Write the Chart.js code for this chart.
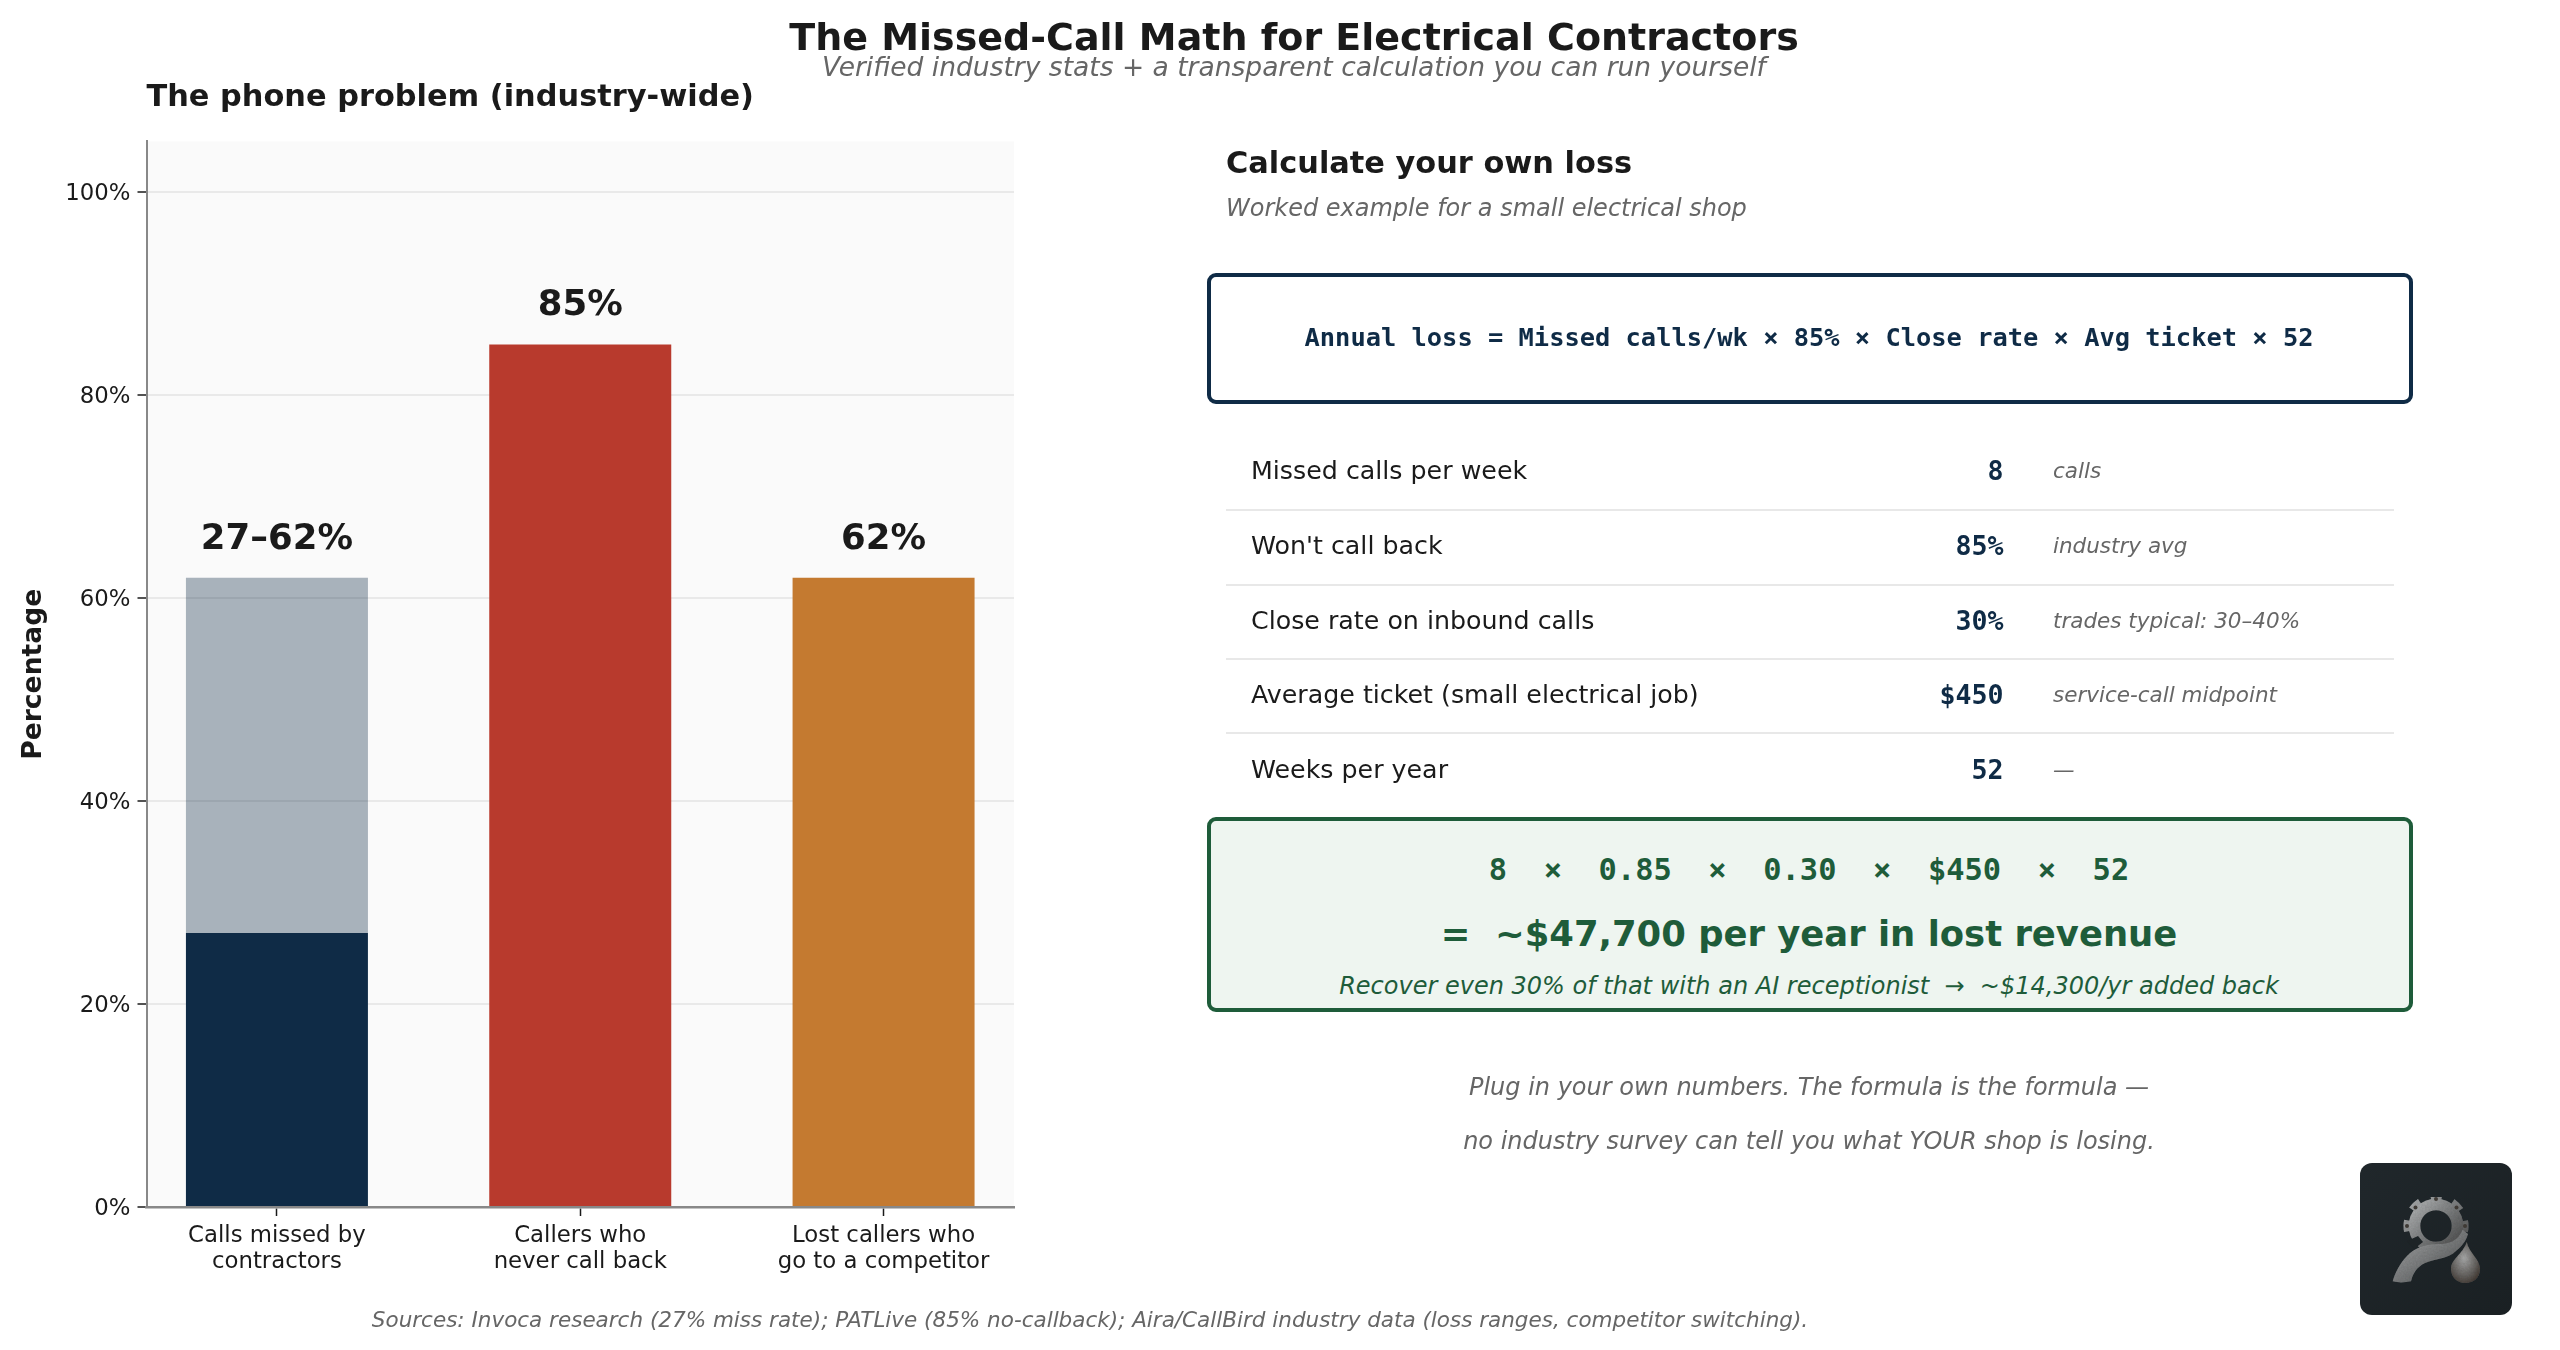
<!DOCTYPE html>
<html>
<head>
<meta charset="utf-8">
<title>The Missed-Call Math for Electrical Contractors</title>
<script src="https://cdn.jsdelivr.net/npm/chart.js@4"></script>
<style>
html, body { margin: 0; padding: 0; background: #fff; }
#page { position: relative; width: 2560px; height: 1350px; overflow: hidden; font-family: "DejaVu Sans", sans-serif; color: #1a1a1a; }
#phoneChart { position: absolute; left: 0; top: 0; }
.t { position: absolute; white-space: pre; line-height: 1; transform: translateY(-50%); }
.c { transform: translate(-50%, -50%); }
.r { transform: translate(-100%, -50%); }
.i { font-style: italic; color: #666; }
.b { font-weight: bold; }
.m { font-family: "DejaVu Sans Mono", monospace; font-weight: bold; color: #0f2b46; }
.g { color: #1e5c3a; }
.box { position: absolute; box-sizing: border-box; border-radius: 9px; }
.rule { position: absolute; left: 1226px; width: 1168px; height: 2px; background: #e8e8e8; }
#logo { position: absolute; left: 2360px; top: 1163px; }
</style>
</head>
<body>
<div id="page">
	<canvas id="phoneChart" width="2560" height="1350"></canvas>

	<div class="t c b" style="left:1294px;top:37px;font-size:38px">The Missed-Call Math for Electrical Contractors</div>
	<div class="t c i" style="left:1294px;top:67px;font-size:26.5px">Verified industry stats + a transparent calculation you can run yourself</div>

	<div class="t b" style="left:1226px;top:163px;font-size:30.4px">Calculate your own loss</div>
	<div class="t i" style="left:1226px;top:208px;font-size:24px">Worked example for a small electrical shop</div>

	<div class="box" style="left:1207px;top:272.5px;width:1206px;height:131px;border:4px solid #0f2b46"></div>
	<div class="t c m" style="left:1809px;top:338px;font-size:25.4px">Annual loss = Missed calls/wk × 85% × Close rate × Avg ticket × 52</div>

	<div id="rows"></div>

	<div class="box" style="left:1207px;top:816.5px;width:1206px;height:195px;border:4px solid #1e5c3a;background:#eef5f0"></div>
	<div class="t c m g" style="left:1809px;top:870px;font-size:30.4px;color:#1e5c3a">8  ×  0.85  ×  0.30  ×  $450  ×  52</div>
	<div class="t c b g" style="left:1809px;top:934px;font-size:35.4px">=  ~$47,700 per year in lost revenue</div>
	<div class="t c i g" style="left:1809px;top:986px;font-size:24px;color:#1e5c3a">Recover even 30% of that with an AI receptionist  →  ~$14,300/yr added back</div>

	<div class="t c i" style="left:1809px;top:1087px;font-size:24px">Plug in your own numbers. The formula is the formula —</div>
	<div class="t c i" style="left:1809px;top:1140.5px;font-size:24px">no industry survey can tell you what YOUR shop is losing.</div>

	<div class="t c i" style="left:1090px;top:1319.5px;font-size:21.5px">Sources: Invoca research (27% miss rate); PATLive (85% no-callback); Aira/CallBird industry data (loss ranges, competitor switching).</div>

	<!-- gear, hook and drop badge -->
	<svg id="logo" width="152" height="152" viewBox="0 0 152 152">
		<defs>
			<linearGradient id="plate" x1="0" y1="0" x2="1" y2="1">
				<stop offset="0" stop-color="#20272b"/>
				<stop offset="1" stop-color="#1a2023"/>
			</linearGradient>
			<linearGradient id="steel" x1="0" y1="0" x2="1" y2="1">
				<stop offset="0" stop-color="#a5a7a8"/>
				<stop offset="0.55" stop-color="#6f7172"/>
				<stop offset="1" stop-color="#484848"/>
			</linearGradient>
			<radialGradient id="dropFill" cx="0.45" cy="0.4" r="0.7">
				<stop offset="0" stop-color="#a0a1a1"/>
				<stop offset="0.65" stop-color="#5c5956"/>
				<stop offset="1" stop-color="#382e27"/>
			</radialGradient>
			<clipPath id="upperHalf"><rect width="152" height="72"/></clipPath>
			<filter id="grain" x="0" y="0" width="100%" height="100%">
				<feTurbulence type="fractalNoise" baseFrequency="0.55" numOctaves="2" seed="4"/>
				<feColorMatrix type="saturate" values="0"/>
				<feComponentTransfer><feFuncA type="linear" slope="0.35"/></feComponentTransfer>
				<feComposite in2="SourceAlpha" operator="in"/>
				<feBlend in2="SourceGraphic" mode="overlay"/>
			</filter>
		</defs>
		<rect width="152" height="152" rx="12" fill="url(#plate)"/>
		<g filter="url(#grain)">
			<g clip-path="url(#upperHalf)">
				<circle cx="76" cy="63" r="29" fill="none" stroke="url(#steel)" stroke-width="7" stroke-dasharray="11 11.78" stroke-dashoffset="5.5"/>
			</g>
			<circle cx="76" cy="63" r="21.5" fill="none" stroke="url(#steel)" stroke-width="11.5"/>
			<path d="M102.7 66.7 C98 78 89 81 78 81 C66 81.5 55 84 47 93 C40 100 35 110 32.7 118.3 C39 120 45 119.5 51 118.3 C53 110 57 104 65 100 C74 96 88 96 96 88 C102 83 106 78 108 71 Z" fill="url(#steel)"/>
			<path d="M106.7 79 C109 90 120 96 120 106 C120 115 113 120 105.5 120 C97 120 91 114 91 106 C91 96 103 91 106.7 79 Z" fill="url(#dropFill)"/>
		</g>
		<path d="M47 78 L58 73 L63 79 L54 86 Z" fill="#1d2326"/>
		<circle cx="76" cy="36" r="2" fill="#3f3a35"/>
		<circle cx="55.5" cy="44.5" r="2" fill="#3f3a35"/>
		<circle cx="96.5" cy="44.5" r="2" fill="#3f3a35"/>
		<circle cx="47" cy="63" r="2" fill="#3f3a35"/>
		<circle cx="105" cy="63" r="2" fill="#3f3a35"/>
	</svg>
</div>

<script>
// bar chart values, in percent
var categories = [["Calls missed by", "contractors"], ["Callers who", "never call back"], ["Lost callers who", "go to a competitor"]]
var solidValues = [27, 85, 62]
var missRange = [[27, 62], null, null]
var valueLabels = ["27–62%", "85%", "62%"]
var labelTops = [62, 85, 62]
var barColors = ["#0f2b46", "#b83a2d", "#c47a30"]

// worked example rows
var rowLabels = ["Missed calls per week", "Won't call back", "Close rate on inbound calls", "Average ticket (small electrical job)", "Weeks per year"]
var rowValues = ["8", "85%", "30%", "$450", "52"]
var rowNotes = ["calls", "industry avg", "trades typical: 30–40%", "service-call midpoint", "—"]
var rowCenters = [471, 546, 621, 694.5, 769.5]
var ruleTops = [509, 584, 658, 732]

window.onload = function()
{
	var rows = document.getElementById("rows")
	var html = ""
	for(var i = 0; i < rowLabels.length; i++)
	{
		html += '<div class="t" style="left:1251px;top:' + rowCenters[i] + 'px;font-size:25.3px">' + rowLabels[i] + '</div>'
		html += '<div class="t r m" style="left:2003.5px;top:' + rowCenters[i] + 'px;font-size:26.6px">' + rowValues[i] + '</div>'
		html += '<div class="t i" style="left:2053px;top:' + rowCenters[i] + 'px;font-size:21.5px">' + rowNotes[i] + '</div>'
	}
	for(var j = 0; j < ruleTops.length; j++)
		html += '<div class="rule" style="top:' + ruleTops[j] + 'px"></div>'
	rows.innerHTML = html

	var plotBackground = {
		id: "plotBackground",
		beforeDraw: function(chart)
		{
			var a = chart.chartArea
			chart.ctx.save()
			chart.ctx.fillStyle = "#fafafa"
			chart.ctx.fillRect(a.left, a.top, a.right - a.left, a.bottom - a.top)
			chart.ctx.restore()
		}
	}

	var barLabels = {
		id: "barLabels",
		afterDatasetsDraw: function(chart)
		{
			var ctx = chart.ctx
			ctx.save()
			ctx.font = "bold 35.5px 'DejaVu Sans'"
			ctx.fillStyle = "#1a1a1a"
			ctx.textAlign = "center"
			ctx.textBaseline = "alphabetic"
			for(var i = 0; i < valueLabels.length; i++)
				ctx.fillText(valueLabels[i], chart.scales.x.getPixelForValue(i), chart.scales.y.getPixelForValue(labelTops[i]) - 29)
			ctx.restore()
		}
	}

	var ctx = document.getElementById("phoneChart")
	var myChart = new Chart(ctx, {
		type: "bar",
		data: {
			datasets: [
				{
					data: solidValues.map(function(v, i) { return {x: i, y: v} }),
					backgroundColor: barColors,
					grouped: false,
					categoryPercentage: 0.6,
					barPercentage: 1,
					order: 1
				},
				{
					data: missRange.map(function(v, i) { return {x: i, y: v} }),
					backgroundColor: "rgba(15, 43, 70, 0.35)",
					grouped: false,
					categoryPercentage: 0.6,
					barPercentage: 1,
					order: 2
				}
			]
		},
		plugins: [plotBackground, barLabels],
		options: {
			responsive: false,
			animation: false,
			layout: { padding: { left: 0, right: 1546, top: 0, bottom: 0 } },
			plugins: {
				legend: { display: false },
				tooltip: { enabled: false },
				title: {
					display: true,
					text: "The phone problem (industry-wide)",
					align: "start",
					fullSize: false,
					color: "#1a1a1a",
					font: { family: "DejaVu Sans", size: 30.4, weight: "bold" },
					padding: { top: 79.5, bottom: 25.5 }
				}
			},
			scales: {
				x: {
					type: "linear",
					offset: false,
					min: -0.43,
					max: 2.43,
					afterBuildTicks: function(scale)
					{
						scale.ticks = categories.map(function(c, i) { return {value: i} })
					},
					afterFit: function(scale) { scale.height = 143 },
					ticks: {
						autoSkip: false,
						maxRotation: 0,
						padding: 7,
						color: "#1a1a1a",
						font: { family: "DejaVu Sans", size: 22.8, lineHeight: 1.15 },
						callback: function(v) { return categories[v] }
					},
					grid: { offset: false, drawOnChartArea: false, tickColor: "#1a1a1a", tickLength: 9, tickWidth: 1.5 },
					border: { color: "#888888", width: 2.5 }
				},
				y: {
					min: 0,
					max: 105,
					afterFit: function(scale) { scale.width = 146.5 },
					title: {
						display: true,
						text: "Percentage",
						color: "#1a1a1a",
						font: { family: "DejaVu Sans", size: 26.6, weight: "bold" },
						padding: { top: 18, bottom: 0 }
					},
					ticks: {
						stepSize: 20,
						includeBounds: false,
						padding: 7,
						labelOffset: 2,
						color: "#1a1a1a",
						font: { family: "DejaVu Sans", size: 22.8 },
						callback: function(v) { return v + "%" }
					},
					grid: { color: "#e9e9e9", lineWidth: 2, tickColor: "#1a1a1a", tickLength: 9, tickWidth: 1.5 },
					border: { color: "#888888", width: 2 }
				}
			}
		}
	})
}
</script>
</body>
</html>
